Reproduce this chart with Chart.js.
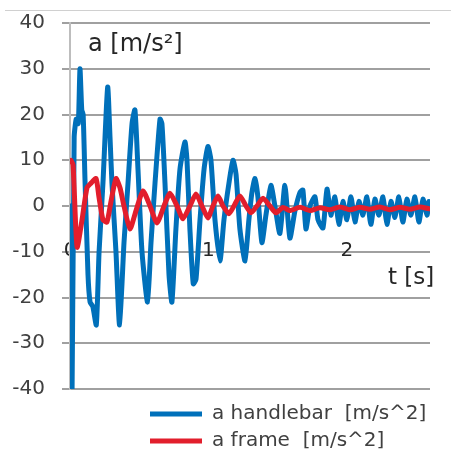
<!DOCTYPE html>
<html>
<head>
<meta charset="utf-8">
<script src="https://cdn.jsdelivr.net/npm/chart.js@4/dist/chart.umd.min.js"></script>
<style>
    html, body { margin: 0; padding: 0; background: #fff; }
    .wrapper { position: relative; width: 451px; height: 456px; }
    .topline { position: absolute; left: 5px; right: 0; top: 10px; border-top: 1px solid #d0d0d0; z-index: 2; }
</style>
</head>
<body>
<div class="wrapper">
    <div class="topline"></div>
    <canvas id="chart"></canvas>
</div>
<script>
// ===== données =====

// temps (s) / accélération guidon (m/s^2)
const timeHandlebar = [
    0.005, 0.015, 0.03, 0.045, 0.06, 0.072, 0.085, 0.095, 0.108, 0.13,
    0.145, 0.165, 0.19, 0.21, 0.238, 0.272, 0.289, 0.303, 0.332, 0.358,
    0.39, 0.419, 0.448, 0.469, 0.491, 0.52, 0.56, 0.585, 0.614, 0.65,
    0.664, 0.686, 0.715, 0.736, 0.765, 0.794, 0.83, 0.845, 0.866, 0.89,
    0.91, 0.939, 0.968, 0.996, 1.018, 1.047, 1.083, 1.112, 1.148, 1.177,
    1.199, 1.227, 1.264, 1.292, 1.314, 1.336, 1.357, 1.386, 1.415, 1.451,
    1.48, 1.516, 1.552, 1.588, 1.625, 1.661, 1.682, 1.704, 1.733, 1.769,
    1.791, 1.827, 1.856, 1.884, 1.913, 1.942, 1.971, 2.0, 2.029, 2.058,
    2.087, 2.116, 2.144, 2.173, 2.202, 2.231, 2.26, 2.289, 2.318, 2.347,
    2.375, 2.404, 2.433, 2.462, 2.491, 2.52, 2.549, 2.578, 2.592
];
const accHandlebar = [
    0, -40, 15, 19, 18, 30, 21, 20, 6, -15,
    -21, -22, -26, -10, 5, 26, 15, 5, -10, -26,
    -8, 5, 18, 21, 8, -10, -21, -8, 5, 19,
    18, 5, -15, -21, -5, 8, 14, 10, -5, -17,
    -16, -3, 8, 13, 10, -3, -12, -3, 5, 10,
    7, -5, -12, -3, 3, 6, 2, -8, -2, 4.5,
    0, -6, 4.5, -7, -1, 3, 3.5, -5, 0, 2,
    -3, -4.8, 3.7, -2, 2, -4, 1, -3, 2, -3.5,
    1, -2, 2, -4, 1.5, -2, 2, -4, 1, -2.5,
    2, -3.5, 1.5, -2, 2, -3.5, 1.5, -2, 1
];

// temps (s) / accélération cadre (m/s^2)
const timeFrame = [
    0.007, 0.022, 0.051, 0.087, 0.123, 0.152, 0.188, 0.209, 0.238, 0.267,
    0.296, 0.332, 0.361, 0.39, 0.433, 0.477, 0.527, 0.578, 0.628, 0.679,
    0.722, 0.773, 0.816, 0.866, 0.91, 0.953, 0.996, 1.032, 1.069, 1.105,
    1.148, 1.184, 1.227, 1.271, 1.307, 1.35, 1.394, 1.444, 1.487, 1.538,
    1.588, 1.661, 1.733, 1.805, 1.877, 1.949, 2.022, 2.094, 2.166, 2.238,
    2.31, 2.383, 2.455, 2.527, 2.592
];
const accFrame = [
    10, 9, -9, -3, 4, 5, 6, 2, -3, -3.5,
    1, 6, 4, 0, -5, -1, 3.3, 0, -3.7, 0,
    2.8, 0, -2.8, 0, 2.6, 0, -2.6, 0, 2.2, 0,
    -1.7, 0, 2.2, 0, -1.5, 0, 1.7, 0, -1.5, -0.3,
    -1, -0.3, -1, -0.4, -0.8, -0.2, -0.8, -0.3, -0.7, -0.2,
    -0.8, -0.3, -0.7, -0.2, -0.6
];

const seriesLabels = ['a handlebar  [m/s^2]', 'a frame  [m/s^2]'];
const yAxisCaption = 'a [m/s²]';
const xAxisCaption = 't [s]';

// ==================================

const FONT = 'DejaVu Sans';

const toPoints = (times, values) => times.map((t, i) => ({ x: t, y: values[i] }));

// légendes d'axes dessinées dans la zone du graphe
const axisCaptions = {
    id: 'axisCaptions',
    afterDatasetsDraw(chart) {
        const ctx = chart.ctx;
        ctx.save();
        ctx.fillStyle = '#262626';
        ctx.textBaseline = 'alphabetic';
        ctx.font = '24px "' + FONT + '"';
        ctx.fillText(yAxisCaption, 88, 51);
        ctx.font = '23px "' + FONT + '"';
        ctx.fillText(xAxisCaption, 388, 284);
        ctx.restore();
    }
};

// légende calée à gauche sous le graphe
const legendOffset = {
    id: 'legendOffset',
    afterLayout(chart) {
        chart.legend.left = 143;
        chart.legend.top += 8;
    }
};

const data = {
    datasets: [
        {
            label: seriesLabels[0],
            borderColor: 'rgb(0,112,186)',
            backgroundColor: 'rgb(0,112,186)',
            borderWidth: 5,
            order: 1,
            data: toPoints(timeHandlebar, accHandlebar)
        },
        {
            label: seriesLabels[1],
            borderColor: 'rgb(226,30,44)',
            backgroundColor: 'rgb(226,30,44)',
            borderWidth: 5,
            order: 0,
            data: toPoints(timeFrame, accFrame)
        }
    ]
};

const config = {
    type: 'line',
    data: data,
    options: {
        responsive: true,
        maintainAspectRatio: false,
        animation: false,
        layout: { padding: { top: 23, right: 21, bottom: 3, left: 0 } },
        elements: {
            point: { radius: 0 },
            line: { tension: 0.2, borderJoinStyle: 'round', borderCapStyle: 'round' }
        },
        scales: {
            x: {
                type: 'linear',
                min: 0,
                max: 2.6,
                position: { y: -10 },
                grid: { display: false, drawTicks: false },
                border: { display: false },
                ticks: {
                    stepSize: 1,
                    includeBounds: false,
                    padding: -13,
                    color: '#262626',
                    font: { family: FONT, size: 20 }
                }
            },
            y: {
                min: -40,
                max: 40,
                grid: { color: '#a0a0a0', lineWidth: 2, tickLength: 8 },
                border: { display: true, color: '#bdbdbd', width: 2 },
                ticks: {
                    stepSize: 10,
                    padding: 17,
                    color: '#404040',
                    font: { family: FONT, size: 20 }
                },
                afterFit(scale) {
                    scale.width = 70;
                    scale.paddingTop = 0;
                    scale.paddingBottom = 0;
                }
            }
        },
        plugins: {
            tooltip: { enabled: false },
            legend: {
                position: 'bottom',
                align: 'start',
                labels: {
                    boxWidth: 52,
                    boxHeight: 5,
                    padding: 7,
                    color: '#404040',
                    font: { family: FONT, size: 20 },
                    sort: (a, b) => a.datasetIndex - b.datasetIndex,
                    generateLabels: chart => Chart.defaults.plugins.legend.labels.generateLabels(chart)
                        .map(item => ({ ...item, lineWidth: 0 }))
                }
            }
        }
    },
    plugins: [axisCaptions, legendOffset]
};

const chart = new Chart(document.querySelector('#chart'), config);
</script>
</body>
</html>
